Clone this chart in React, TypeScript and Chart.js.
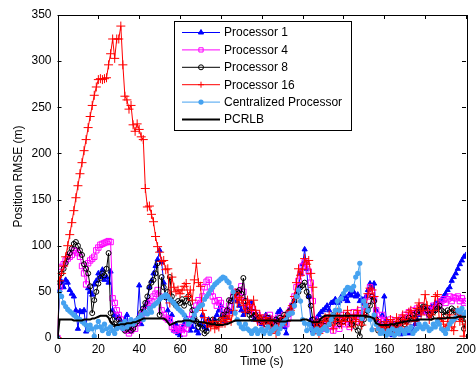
import React, { useEffect, useRef } from 'react';
import { Chart, registerables } from 'chart.js';
import { drawPoint } from 'chart.js/helpers';
Chart.register(...registerables);

const xTicks = [0, 20, 40, 60, 80, 100, 120, 140, 160, 180, 200];
const yTicks = [0, 50, 100, 150, 200, 250, 300, 350];

const processor1 = [
  0, 52, 61, 55, 63, 60, 52, 48, 45, 30,
  10, 29, 28, 30, 7, 54, 50, 47, 58, 62,
  70, 66, 74, 63, 66, 60, 72, 30, 25, 22,
  23, 18, 15, 20, 25, 12, 8, 15, 18, 20,
  57, 15, 28, 35, 40, 55, 62, 70, 78, 85,
  95, 82, 60, 45, 30, 20, 25, 8, 15, 5,
  3, 10, 15, 22, 18, 8, 12, 20, 8, 5,
  15, 25, 12, 10, 20, 15, 18, 20, 25, 30,
  35, 25, 18, 22, 30, 28, 42, 48, 40, 35,
  30, 25, 35, 28, 30, 38, 20, 25, 22, 18,
  15, 20, 25, 18, 22, 15, 12, 20, 28, 30,
  18, 12, 5, 25, 30, 35, 40, 48, 55, 70,
  80, 96, 75, 45, 20, 8, 15, 22, 25, 28,
  30, 32, 35, 30, 38, 39, 42, 38, 40, 45,
  42, 45, 40, 48, 46, 50, 45, 47, 40, 42,
  38, 45, 52, 59, 55, 59, 30, 15, 10, 25,
  45, 20, 8, 5, 3, 10, 5, 8, 4, 6,
  8, 10, 5, 12, 8, 15, 20, 25, 30, 28,
  30, 32, 28, 34, 30, 38, 36, 40, 41, 45,
  48, 52, 55, 62, 66, 70, 75, 80, 84, 88,
  90,
];

const processor4 = [
  0, 55, 77, 80, 84, 86, 88, 90, 95, 94,
  92, 88, 78, 70, 58, 81, 84, 86, 88, 95,
  98, 101, 102, 103, 104, 105, 104, 43, 38, 30,
  25, 20, 12, 10, 8, 5, 8, 12, 10, 16,
  20, 24, 27, 30, 35, 38, 40, 45, 48, 52,
  45, 30, 25, 22, 20, 20, 12, 10, 8, 10,
  9, 12, 5, 10, 15, 20, 25, 30, 35, 41,
  38, 45, 55, 61, 63, 50, 45, 40, 35, 41,
  38, 30, 25, 28, 35, 40, 45, 50, 48, 45,
  56, 50, 40, 35, 30, 32, 28, 22, 25, 18,
  20, 22, 15, 18, 25, 20, 12, 15, 22, 18,
  20, 25, 15, 22, 30, 35, 45, 55, 62, 70,
  78, 82, 80, 72, 60, 40, 20, 15, 12, 18,
  15, 10, 18, 22, 12, 8, 20, 15, 10, 18,
  25, 15, 20, 12, 22, 28, 18, 25, 30, 22,
  28, 35, 45, 55, 50, 42, 30, 20, 15, 25,
  18, 12, 15, 20, 10, 14, 18, 12, 20, 22,
  25, 20, 28, 22, 30, 25, 32, 28, 35, 30,
  32, 28, 25, 30, 35, 32, 38, 35, 40, 42,
  38, 42, 45, 40, 44, 43, 45, 40, 43, 38,
  40,
];

const processor8 = [
  0, 60, 70, 75, 81, 88, 92, 97, 102, 104,
  100, 95, 90, 80, 75, 70, 56, 27, 41, 50,
  59, 65, 70, 68, 75, 92, 27, 20, 15, 12,
  20, 15, 12, 8, 10, 12, 8, 10, 15, 18,
  22, 28, 32, 38, 45, 55, 60, 63, 70, 81,
  25, 66, 55, 44, 50, 66, 45, 38, 35, 40,
  38, 42, 35, 40, 45, 38, 30, 22, 18, 12,
  15, 10, 5, 7, 18, 15, 20, 16, 14, 18,
  20, 25, 22, 30, 41, 40, 45, 48, 50, 52,
  48, 65, 40, 30, 25, 22, 28, 25, 20, 22,
  18, 20, 15, 22, 18, 12, 15, 20, 18, 22,
  20, 25, 22, 28, 30, 35, 40, 45, 50, 55,
  57, 60, 50, 45, 35, 20, 15, 12, 18, 15,
  20, 18, 22, 15, 20, 25, 18, 22, 15, 20,
  18, 22, 25, 20, 15, 18, 12, 8, 2, 15,
  20, 25, 30, 35, 45, 40, 20, 8, 12, 15,
  12, 10, 15, 8, 12, 15, 10, 18, 15, 20,
  15, 18, 22, 20, 25, 22, 28, 30, 32, 34,
  34, 30, 25, 22, 28, 30, 32, 35, 30, 28,
  25, 30, 28, 32, 30, 28, 25, 22, 20, 10,
  20,
];

const processor16 = [
  0, 62, 70, 78, 88, 100, 112, 125, 138, 152,
  165, 178, 190, 203, 215, 228, 240, 252, 263, 272,
  280, 281, 280, 281, 282, 296, 308, 324, 303, 324,
  324, 338, 296, 262, 258, 248, 252, 231, 224, 232,
  226, 218, 215, 162, 142, 143, 134, 126, 110, 99,
  93, 83, 84, 74, 75, 38, 66, 55, 50, 52,
  48, 52, 56, 59, 45, 52, 41, 63, 81, 60,
  56, 30, 22, 16, 16, 12, 18, 10, 14, 12,
  18, 22, 16, 20, 24, 18, 30, 49, 38, 44,
  41, 35, 28, 41, 36, 30, 41, 30, 18, 25,
  20, 15, 22, 18, 12, 20, 10, 5, 12, 18,
  15, 22, 18, 25, 30, 35, 45, 60, 75, 68,
  74, 86, 80, 84, 70, 55, 8, 16, 5, 12,
  18, 22, 14, 25, 20, 10, 18, 28, 22, 15,
  24, 18, 30, 22, 12, 25, 18, 30, 20, 14,
  25, 35, 48, 54, 52, 45, 20, 10, 15, 8,
  12, 18, 10, 20, 15, 8, 22, 18, 12, 25,
  20, 15, 28, 30, 22, 18, 32, 38, 25, 30,
  47, 35, 20, 25, 30, 45, 47, 18, 22, 15,
  10, 18, 25, 12, 8, 22, 30, 18, 25, 2,
  15,
];

const centralized = [
  0, 50, 45, 38, 34, 31, 29, 27, 25, 23,
  21, 20, 18, 16, 14, 9, 14, 10, 2, 12,
  18, 12, 8, 15, 10, 5, 12, 8, 5, 10,
  12, 15, 10, 18, 12, 15, 20, 15, 18, 20,
  22, 25, 20, 28, 26, 32, 28, 35, 37, 39,
  42, 44, 45, 47, 45, 42, 40, 38, 35, 32,
  30, 28, 25, 20, 15, 18, 20, 25, 30, 33,
  35, 36, 42, 45, 48, 52, 55, 58, 60, 62,
  64, 66, 65, 62, 60, 55, 50, 27, 20, 16,
  12, 10, 15, 10, 8, 5, 8, 10, 5, 8,
  10, 5, 8, 12, 5, 8, 10, 12, 5, 10,
  15, 18, 20, 25, 27, 27, 35, 45, 52, 40,
  20, 16, 8, 15, 10, 5, 8, 10, 5, 8,
  10, 12, 8, 15, 20, 25, 30, 40, 30, 43,
  48, 52, 55, 54, 52, 56, 66, 70, 81, 21,
  40, 35, 30, 20, 9, 25, 15, 10, 5, 8,
  5, 3, 8, 5, 10, 3, 8, 5, 10, 8,
  5, 10, 8, 12, 5, 8, 10, 15, 12, 10,
  15, 12, 8, 10, 15, 12, 18, 15, 10, 8,
  5, 10, 15, 18, 20, 22, 30, 28, 32, 25,
  28,
];

const pcrlb = [
  0, 20, 20, 20, 20, 20, 20, 20, 19, 19,
  19, 19, 19, 20, 20, 20, 20, 21, 21, 22,
  23, 24, 24, 24, 24, 22, 17, 15, 14, 14,
  14, 15, 15, 15, 16, 16, 16, 17, 17, 18,
  19, 20, 21, 21, 21, 21, 21, 21, 21, 21,
  21, 21, 21, 20, 17, 14, 15, 16, 17, 18,
  18, 18, 19, 19, 19, 19, 18, 18, 18, 18,
  17, 17, 17, 16, 16, 15, 15, 15, 14, 14,
  14, 14, 15, 15, 16, 17, 18, 19, 19, 19,
  19, 19, 19, 19, 19, 19, 19, 19, 19, 19,
  19, 19, 19, 19, 19, 19, 19, 19, 18, 18,
  18, 18, 18, 19, 19, 19, 19, 19, 19, 19,
  20, 20, 20, 19, 18, 17, 17, 17, 18, 21,
  23, 24, 24, 24, 24, 24, 24, 24, 24, 24,
  24, 24, 24, 24, 24, 24, 24, 24, 24, 24,
  24, 24, 23, 23, 22, 21, 16, 15, 14, 14,
  14, 14, 14, 15, 15, 15, 16, 16, 17, 17,
  18, 18, 19, 19, 19, 19, 19, 20, 20, 20,
  20, 20, 20, 20, 21, 21, 21, 21, 21, 21,
  21, 22, 22, 22, 22, 22, 23, 23, 23, 23,
  23,
];

const FONT = '"Liberation Sans", Arial, Helvetica, sans-serif';

export default function App() {
  const ref = useRef<HTMLCanvasElement>(null);

  useEffect(() => {
    document.body.style.margin = '0';
    const canvas = ref.current;
    if (!canvas) return;
    const toXY = (arr: number[]) => arr.map((v, i) => ({ x: i, y: v }));
    const clear = 'rgba(0,0,0,0)';

    const datasets: any[] = [
      {
        label: 'Processor 1', data: toXY(processor1), borderColor: '#0000ff', borderWidth: 1,
        pointStyle: 'triangle', pointRadius: 3, pointBackgroundColor: '#0000ff', pointBorderColor: '#0000ff', pointBorderWidth: 1, order: 6,
      },
      {
        label: 'Processor 4', data: toXY(processor4), borderColor: '#ff00ff', borderWidth: 1,
        pointStyle: 'rect', pointRadius: 3.8, pointBackgroundColor: clear, pointBorderColor: '#ff00ff', pointBorderWidth: 1, order: 5,
      },
      {
        label: 'Processor 8', data: toXY(processor8), borderColor: '#000000', borderWidth: 1,
        pointStyle: 'circle', pointRadius: 2.5, pointBackgroundColor: clear, pointBorderColor: '#000000', pointBorderWidth: 1, order: 4,
      },
      {
        label: 'Processor 16', data: toXY(processor16), borderColor: '#ff0000', borderWidth: 1,
        pointStyle: 'cross', pointRadius: 4.5, pointBackgroundColor: '#ff0000', pointBorderColor: '#ff0000', pointBorderWidth: 1, order: 3,
      },
      {
        label: 'Centralized Processor', data: toXY(centralized), borderColor: '#45a2f0', borderWidth: 1,
        pointStyle: 'circle', pointRadius: 2.6, pointBackgroundColor: '#45a2f0', pointBorderColor: '#45a2f0', pointBorderWidth: 0, order: 2,
      },
      {
        label: 'PCRLB', data: toXY(pcrlb), borderColor: '#000000', borderWidth: 2,
        pointRadius: 0, order: 1,
      },
    ];

    const boxPlugin = {
      id: 'boxAndLegend',
      afterDraw(chart: any) {
        const { ctx, chartArea } = chart;
        const { left, right, top, bottom } = chartArea;
        const xs = chart.scales.x;
        const ys = chart.scales.y;
        ctx.save();
        ctx.strokeStyle = '#000';
        ctx.lineWidth = 1;
        ctx.strokeRect(Math.round(left) + 0.5, Math.round(top) + 0.5, Math.round(right - left), Math.round(bottom - top));
        const tl = 4;
        ctx.beginPath();
        xTicks.forEach((t) => {
          const px = Math.round(xs.getPixelForValue(t)) + 0.5;
          ctx.moveTo(px, bottom); ctx.lineTo(px, bottom - tl);
          ctx.moveTo(px, top); ctx.lineTo(px, top + tl);
        });
        yTicks.forEach((t) => {
          const py = Math.round(ys.getPixelForValue(t)) + 0.5;
          ctx.moveTo(left, py); ctx.lineTo(left + tl, py);
          ctx.moveTo(right, py); ctx.lineTo(right - tl, py);
        });
        ctx.stroke();

        // legend
        const lx = 174.5, ly = 21.5, lw = 177, lh = 109;
        ctx.fillStyle = '#fff';
        ctx.fillRect(lx, ly, lw, lh);
        ctx.strokeRect(lx, ly, lw, lh);
        ctx.font = `12px ${FONT}`;
        ctx.textBaseline = 'middle';
        ctx.textAlign = 'left';
        chart.data.datasets.forEach((ds: any, i: number) => {
          const y = 32.5 + i * 17.4;
          ctx.save();
          ctx.strokeStyle = ds.borderColor;
          ctx.lineWidth = ds.borderWidth;
          ctx.beginPath();
          ctx.moveTo(182, y);
          ctx.lineTo(220, y);
          ctx.stroke();
          if (ds.pointRadius > 0) {
            ctx.strokeStyle = ds.pointBorderColor;
            ctx.fillStyle = ds.pointBackgroundColor;
            ctx.lineWidth = 1;
            drawPoint(ctx, { pointStyle: ds.pointStyle, radius: Math.min(ds.pointRadius, 3), rotation: 0, borderWidth: ds.pointBorderWidth } as any, 201, y);
          }
          ctx.restore();
          ctx.fillStyle = '#000';
          ctx.fillText(ds.label, 224, y + 0.5);
        });
        ctx.restore();
      },
    };

    const chart = new Chart(canvas, {
      type: 'line',
      data: { datasets },
      options: {
        responsive: false,
        animation: false,
        events: [],
        layout: { padding: { left: 0, right: 10, top: 15, bottom: 0 } },
        elements: { line: { tension: 0 } },
        plugins: { legend: { display: false }, tooltip: { enabled: false } },
        scales: {
          x: {
            type: 'linear', min: 0, max: 200,
            afterBuildTicks: (s: any) => { s.ticks = xTicks.map((v) => ({ value: v })); },
            ticks: { color: '#000', font: { family: FONT, size: 12 }, padding: 4, maxRotation: 0, autoSkip: false },
            grid: { display: false, drawTicks: false },
            border: { display: false },
            title: { display: true, text: 'Time (s)', color: '#000', font: { family: FONT, size: 12 }, padding: { top: 4, bottom: 4 } },
            afterFit: (s: any) => { s.height = 35; s.paddingLeft = 0; s.paddingRight = 0; },
          },
          y: {
            min: 0, max: 350,
            afterBuildTicks: (s: any) => { s.ticks = yTicks.map((v) => ({ value: v })); },
            ticks: { color: '#000', font: { family: FONT, size: 12 }, padding: 6, autoSkip: false },
            grid: { display: false, drawTicks: false },
            border: { display: false },
            title: { display: true, text: 'Position RMSE (m)', color: '#000', font: { family: FONT, size: 12 }, padding: { top: 11, bottom: 11 } },
            afterFit: (s: any) => { s.width = 57.5; s.paddingTop = 0; s.paddingBottom = 0; },
          },
        },
      },
      plugins: [boxPlugin],
    });
    return () => chart.destroy();
  }, []);

  return (
    <div style={{ width: 476, height: 373 }}>
      <canvas ref={ref} width={476} height={373} style={{ display: 'block' }} />
    </div>
  );
}
